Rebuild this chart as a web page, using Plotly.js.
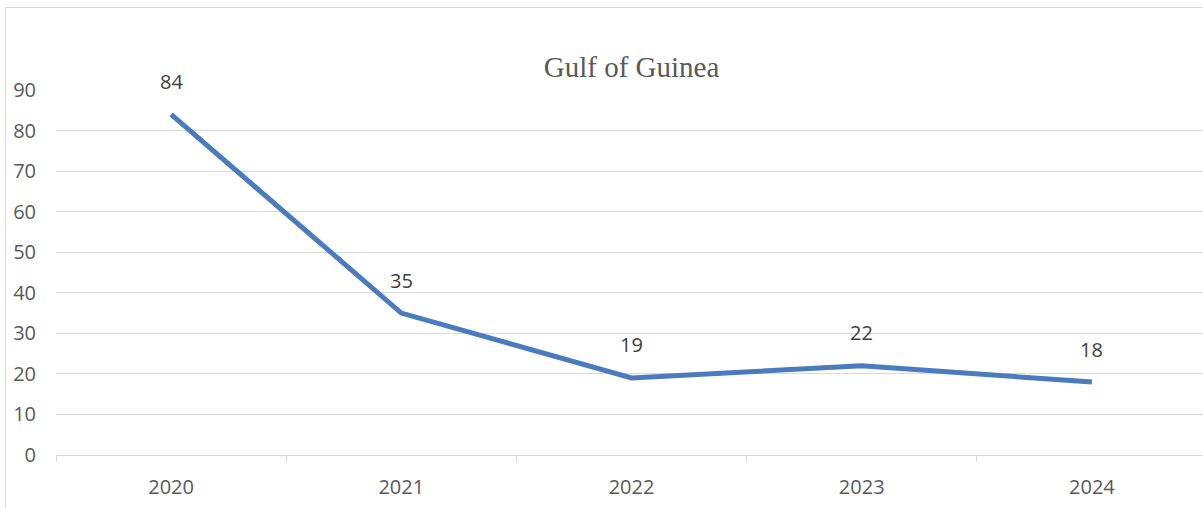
<!DOCTYPE html>
<html>
<head>
<meta charset="utf-8">
<script src="https://cdn.plot.ly/plotly-3.0.1.min.js"></script>
<style>
    html, body { margin: 0; padding: 0; overflow: hidden; background: #fff; }
    #frame {
        position: absolute; left: 5px; top: 7px; width: 1400px; height: 700px;
        border: 1px solid #d9d9d9; pointer-events: none;
    }
</style>
</head>
<body>
<div id="plot"></div>
<div id="frame"></div>
<script>
// chart data
const years = ['2020', '2021', '2022', '2023', '2024'];
const incidents = [84, 35, 19, 22, 18];
const yTicks = [0, 10, 20, 30, 40, 50, 60, 70, 80, 90];

const lineColor = '#4a7bbf';
const labelFont = { family: 'Open Sans, sans-serif', size: 20, color: '#595959' };

const trace = {
    x: years,
    y: incidents,
    type: 'scatter',
    mode: 'lines',
    line: { color: lineColor, width: 5 },
    hoverinfo: 'x+y',
    showlegend: false
};

// value labels above each point (category index, since the years look numeric)
const annotations = years.map((year, i) => ({
    x: i,
    y: incidents[i],
    text: String(incidents[i]),
    showarrow: false,
    yshift: 33,
    font: { family: 'Open Sans, sans-serif', size: 20, color: '#404040' }
}));

const layout = {
    width: 1210,
    height: 508,
    margin: { l: 56, r: 3, t: 90, b: 53 },
    paper_bgcolor: '#fff',
    plot_bgcolor: '#fff',
    title: {
        text: 'Gulf of Guinea',
        font: { family: 'Liberation Serif, Times New Roman, serif', size: 29, color: '#595959' },
        x: 0.5,
        xref: 'paper',
        y: 0.868,
        yref: 'container',
        yanchor: 'middle'
    },
    xaxis: {
        type: 'category',
        range: [-0.5, 4.5],
        tickson: 'boundaries',
        ticks: 'outside',
        ticklen: 6,
        tickcolor: '#d9d9d9',
        showgrid: false,
        showline: true,
        linecolor: '#d9d9d9',
        linewidth: 1,
        tickfont: labelFont,
        ticklabelstandoff: 14,
        fixedrange: true
    },
    yaxis: {
        range: [0, 90],
        tickvals: yTicks,
        ticktext: yTicks.map(String),
        showgrid: true,
        gridcolor: '#d9d9d9',
        gridwidth: 1,
        zeroline: false,
        showline: false,
        ticks: '',
        tickfont: labelFont,
        ticklabelstandoff: 19,
        fixedrange: true
    },
    annotations: annotations
};

Plotly.newPlot('plot', [trace], layout, { displayModeBar: false, staticPlot: true });
</script>
</body>
</html>
